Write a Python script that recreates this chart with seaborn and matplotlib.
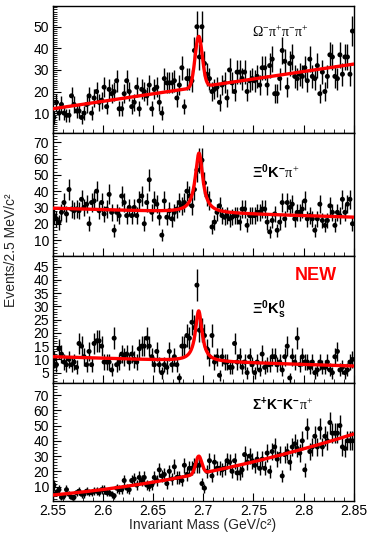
import numpy as np
import seaborn as sns
import matplotlib
matplotlib.use("Agg")
import matplotlib.pyplot as plt
from matplotlib.ticker import MultipleLocator, FuncFormatter

# histogram range (GeV/c^2), 2.5 MeV bins
mass_lo, mass_hi, bin_w = 2.55, 2.85, 0.0025

# counts per bin
omega_3pi = [8, 15, 10, 14, 10, 9, 9, 18, 14, 11,
             11, 8, 10, 14, 18, 10, 17, 20, 15, 16,
             22, 13, 21, 19, 20, 25, 12, 12, 19, 25,
             20, 13, 15, 22, 12, 21, 20, 18, 23, 12,
             21, 22, 15, 10, 26, 24, 24, 24, 25, 17,
             23, 31, 13, 26, 26, 25, 39, 50, 36, 50,
             33, 28, 26, 20, 21, 22, 15, 23, 24, 17,
             30, 24, 20, 29, 29, 26, 29, 20, 25, 26,
             25, 27, 23, 31, 31, 23, 32, 35, 19, 19,
             26, 39, 34, 22, 33, 36, 27, 26, 28, 27,
             31, 25, 35, 27, 26, 32, 19, 29, 20, 27,
             37, 36, 27, 26, 37, 28, 36, 36, 28, 48]

xi0_kpi = [25, 23, 21, 27, 33, 26, 41, 29, 28, 29,
           28, 35, 30, 32, 20, 33, 34, 40, 28, 33,
           26, 29, 38, 27, 16, 27, 25, 37, 33, 25,
           30, 25, 30, 25, 34, 37, 20, 33, 47, 27,
           34, 32, 24, 13, 34, 24, 28, 23, 27, 29,
           33, 31, 33, 40, 37, 31, 41, 53, 59, 59,
           45, 37, 34, 18, 21, 27, 31, 25, 24, 25,
           23, 24, 25, 25, 21, 29, 29, 19, 25, 25,
           25, 27, 27, 29, 29, 21, 15, 22, 26, 16,
           21, 33, 23, 33, 30, 32, 23, 27, 27, 29,
           34, 23, 25, 23, 16, 23, 32, 22, 19, 22,
           31, 27, 19, 27, 25, 35, 27, 32, 35, 20]

xi0_k0s = [10, 8, 14, 12, 9, 8, 10, 8, 9, 7,
           16, 15, 11, 8, 13, 8, 16, 17, 17, 15,
           9, 9, 9, 6, 18, 8, 9, 12, 11, 12,
           9, 12, 10, 9, 14, 15, 15, 18, 15, 11,
           8, 13, 8, 5, 8, 7, 13, 8, 11, 8,
           3, 15, 15, 19, 18, 24, 22, 38, 21, 21,
           19, 14, 11, 19, 9, 11, 4, 11, 9, 9,
           7, 7, 16, 9, 11, 7, 9, 5, 11, 8,
           5, 9, 6, 12, 7, 8, 8, 11, 11, 8,
           9, 6, 11, 15, 3, 11, 9, 18, 8, 11,
           9, 9, 7, 9, 5, 6, 9, 7, 7, 9,
           6, 5, 11, 13, 6, 7, 5, 6, 9, 10]

sigma_kkpi = [11, 6, 8, 3, 4, 8, 5, 3, 3, 6,
              7, 5, 5, 7, 6, 6, 7, 7, 6, 8,
              8, 6, 6, 5, 4, 9, 8, 8, 14, 9,
              8, 14, 15, 11, 16, 14, 16, 11, 10, 11,
              16, 14, 21, 17, 18, 12, 20, 15, 23, 16,
              16, 14, 24, 18, 22, 22, 24, 24, 24, 12,
              9, 20, 27, 17, 26, 22, 22, 21, 22, 27,
              26, 20, 27, 19, 19, 21, 31, 26, 30, 27,
              24, 28, 22, 28, 22, 32, 20, 33, 36, 28,
              31, 17, 31, 33, 26, 36, 38, 35, 32, 40,
              21, 48, 33, 36, 43, 36, 48, 36, 43, 40,
              52, 45, 45, 45, 50, 36, 35, 40, 40, 40]

# fit curves: background polynomial in (m - 2.55), peak height, mass, width
fit_omega = dict(bg=[12.0, 69.0], amp=23.5, mass=2.6955, width=0.0036, shape="gauss")
fit_xi_kpi = dict(bg=[29.5, -18.3], amp=36.5, mass=2.6958, width=0.0045, shape="bw")
fit_xi_k0s = dict(bg=[11.0, -11.7], amp=19.0, mass=2.6955, width=0.0040, shape="bw")
fit_sigma = dict(bg=[4.5, 60.0, 244.0], amp=11.6, mass=2.6955, width=0.0030, shape="gauss")


def fit_curve(m, bg, amp, mass, width, shape):
    t = m - mass_lo
    back = sum(c * t ** k for k, c in enumerate(bg))
    if shape == "gauss":
        peak = amp * np.exp(-0.5 * ((m - mass) / width) ** 2)
    else:
        peak = amp / (1 + ((m - mass) / width) ** 2)
    return back + peak


sns.set_theme(style="ticks")
plt.rcParams['font.family'] = ['Liberation Sans', 'DejaVu Sans']
plt.rcParams['mathtext.fontset'] = 'custom'
plt.rcParams['mathtext.rm'] = 'Liberation Serif'
plt.rcParams['mathtext.it'] = 'Liberation Serif:italic'
plt.rcParams['mathtext.bf'] = 'Liberation Sans:bold'
plt.rcParams['mathtext.sf'] = 'Liberation Sans'

centers = mass_lo + bin_w / 2 + bin_w * np.arange(120)
m_fine = np.linspace(mass_lo, mass_hi, 1200)

panels = [
    (omega_3pi, fit_omega, (0.8, 59.6), [10, 20, 30, 40, 50], 1,
     r'$\mathrm{\Omega^{-}\pi^{+}\pi^{-}\pi^{+}}$', 0.795, 10),
    (xi0_kpi, fit_xi_kpi, (0.2, 75.7), [10, 20, 30, 40, 50, 60, 70], 2,
     r'$\mathbf{\Xi^{0}K^{-}}\mathrm{\pi^{+}}$', 0.683, 10.5),
    (xi0_k0s, fit_xi_k0s, (1.1, 49.0), [5, 10, 15, 20, 25, 30, 35, 40, 45], 1,
     r'$\mathbf{\Xi^{0}K^{0}_{s}}$', 0.575, 10.5),
    (sigma_kkpi, fit_sigma, (0.6, 77.9), [10, 20, 30, 40, 50, 60, 70], 2,
     r'$\mathbf{\Sigma^{+}K^{-}K^{-}}\mathrm{\pi^{+}}$', 0.814, 10),
]

fig, axes = plt.subplots(4, 1, figsize=(3.67, 5.35), dpi=100, sharex=True,
                         gridspec_kw=dict(height_ratios=[127, 123, 127, 118], hspace=0))
fig.subplots_adjust(left=0.1436, right=0.9638, top=0.9888, bottom=0.0636)

for ax, (counts, fit, ylim, yticks, yminor, label, label_y, label_fs) in zip(axes, panels):
    counts = np.array(counts, dtype=float)
    err = np.sqrt(counts)
    ax.vlines(centers, counts - err, counts + err, color='black', lw=1.0, zorder=2)
    sns.scatterplot(x=centers, y=counts, ax=ax, color='black', s=13,
                    edgecolor='none', linewidth=0, zorder=3)
    sns.lineplot(x=m_fine, y=fit_curve(m_fine, **fit), ax=ax, color='red', lw=2.4, zorder=4)

    ax.set_xlim(mass_lo, mass_hi)
    ax.set_ylim(*ylim)
    ax.set_yticks(yticks)
    ax.yaxis.set_minor_locator(MultipleLocator(yminor))
    ax.xaxis.set_major_locator(MultipleLocator(0.05))
    ax.xaxis.set_minor_locator(MultipleLocator(0.01))
    ax.xaxis.set_major_formatter(FuncFormatter(lambda v, p: f'{v:g}'))
    ax.tick_params(which='both', direction='in', top=False, right=False, colors='black')
    ax.tick_params(which='major', length=6, width=0.8, labelsize=10)
    ax.tick_params(axis='y', pad=2.5)
    ax.tick_params(axis='x', pad=2)
    ax.tick_params(which='minor', length=3, width=0.6)
    for sp in ax.spines.values():
        sp.set_color('black')
        sp.set_linewidth(1.0)
    ax.set_xlabel('')
    ax.set_ylabel('')
    ax.text(0.662, label_y, label, transform=ax.transAxes, fontsize=label_fs,
            ha='left', va='center', color='black')

axes[2].text(0.805, 0.845, 'NEW', transform=axes[2].transAxes, fontsize=13,
             fontweight='bold', color='red', ha='left', va='center')

fig.text(0.03, 0.533, 'Events/2.5 MeV/c²', rotation=90, ha='center', va='center', fontsize=10)
fig.text(0.553, 0.019, 'Invariant Mass (GeV/c²)', ha='center', va='center', fontsize=10)

fig.savefig('out.png', dpi=100)
